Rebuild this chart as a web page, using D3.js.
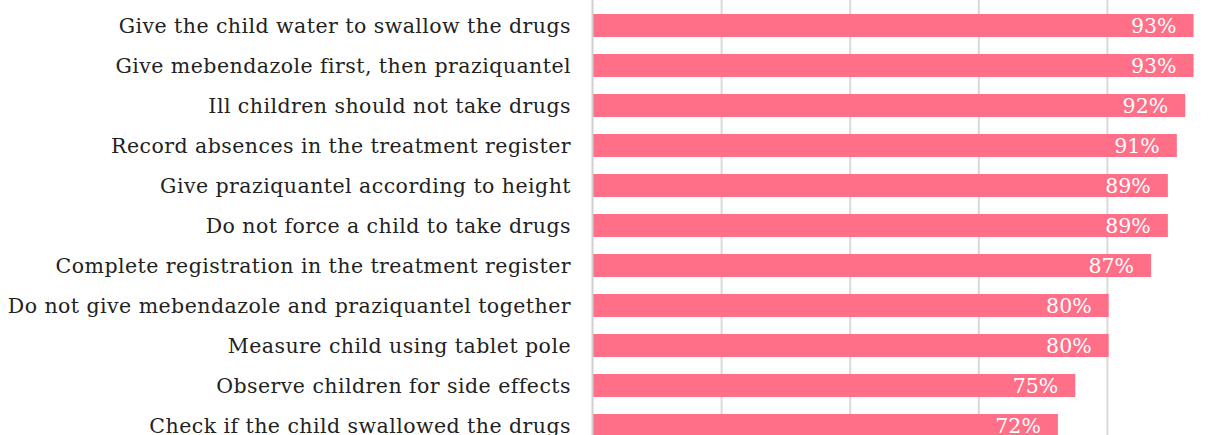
<!DOCTYPE html>
<html>
<head>
<meta charset="utf-8">
<script src="https://cdn.jsdelivr.net/npm/d3@7"></script>
<style>
  html, body { margin: 0; padding: 0; background: #ffffff; overflow: hidden; }
  svg { display: block; }
</style>
</head>
<body>
<svg id="chart" width="1219" height="435"></svg>
<script>
const categories = [
  "Give the child water to swallow the drugs",
  "Give mebendazole first, then praziquantel",
  "Ill children should not take drugs",
  "Record absences in the treatment register",
  "Give praziquantel according to height",
  "Do not force a child to take drugs",
  "Complete registration in the treatment register",
  "Do not give mebendazole and praziquantel together",
  "Measure child using tablet pole",
  "Observe children for side effects",
  "Check if the child swallowed the drugs"
];
const values = [93.4, 93.4, 92.1, 90.8, 89.4, 89.4, 86.8, 80.2, 80.2, 75.0, 72.3];
const gridTicks = [0, 20, 40, 60, 80, 100];

const svg = d3.select("#chart");
const W = 1219, H = 435;
const x0 = 593;
const x = d3.scaleLinear().domain([0, 100]).range([x0, x0 + 643]);
const y = d3.scaleBand().domain(categories).range([5.5, 5.5 + 40 * categories.length]).paddingInner(0.425).paddingOuter(0.2125);

const fontFamily = "'DejaVu Serif', 'Liberation Serif', serif";

// gridlines
svg.append("g").selectAll("line").data(gridTicks.filter(d => d > 0)).join("line")
  .attr("x1", d => x(d)).attr("x2", d => x(d))
  .attr("y1", 0).attr("y2", H)
  .attr("stroke", "#d9d9d9").attr("stroke-width", 2);

// bars
svg.append("g").selectAll("rect").data(categories).join("rect")
  .attr("x", x(0))
  .attr("y", d => y(d))
  .attr("width", (d, i) => x(values[i]) - x(0))
  .attr("height", y.bandwidth())
  .attr("fill", "#ff6f87");

// axis line
svg.append("line")
  .attr("x1", x(0) - 0.5).attr("x2", x(0) - 0.5)
  .attr("y1", 0).attr("y2", H)
  .attr("stroke", "#d0d0d0").attr("stroke-width", 2);

// category labels
svg.append("g").selectAll("text").data(categories).join("text")
  .attr("x", 571)
  .attr("y", d => y(d) + y.bandwidth() / 2)
  .attr("dy", "0.35em")
  .attr("text-anchor", "end")
  .attr("font-family", fontFamily)
  .attr("font-size", 20.5)
  .attr("letter-spacing", "0.45px")
  .attr("fill", "#222222")
  .text(d => d);

// value labels
svg.append("g").selectAll("text").data(categories).join("text")
  .attr("x", (d, i) => x(values[i]) - 17)
  .attr("y", d => y(d) + y.bandwidth() / 2)
  .attr("dy", "0.38em")
  .attr("text-anchor", "end")
  .attr("font-family", fontFamily)
  .attr("font-size", 20.5)
  .attr("fill", "#ffffff")
  .text((d, i) => Math.round(values[i]) + "%");
</script>
</body>
</html>
